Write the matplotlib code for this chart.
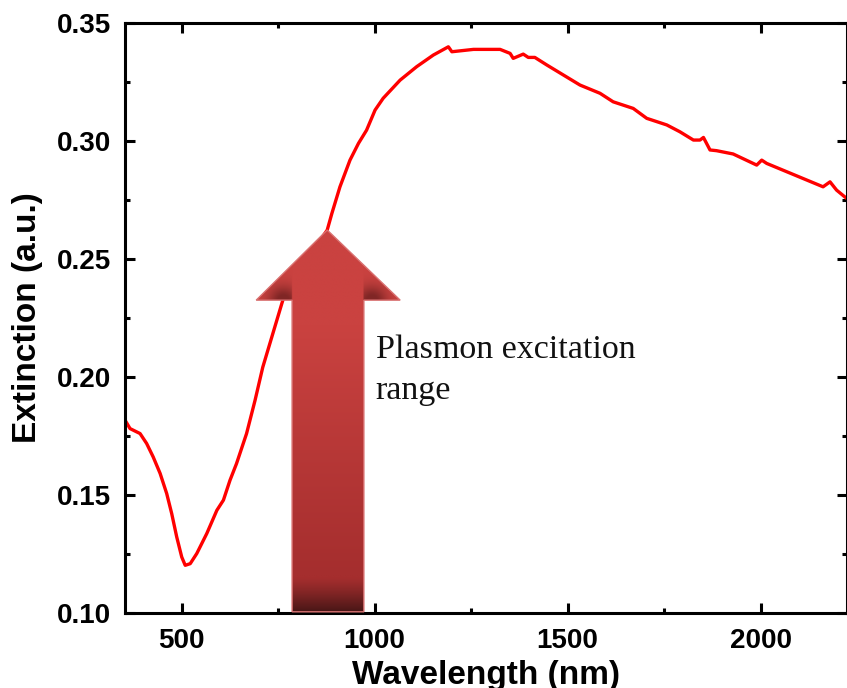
import numpy as np
import matplotlib.pyplot as plt
from matplotlib.patches import Polygon

plt.rcParams['font.family'] = 'Liberation Sans'
plt.rcParams['font.weight'] = 'bold'

# --- data ---
wavelength = [353, 366, 392, 409, 426, 444, 461, 474, 487, 500, 509, 522, 539, 565,
              591, 608, 625, 642, 668, 690, 710, 762, 819, 877, 889, 910, 936, 958,
              979, 1001, 1022, 1066, 1109, 1152, 1191, 1200, 1256, 1325, 1351, 1359,
              1385, 1398, 1415, 1446, 1532, 1584, 1618, 1670, 1705, 1757, 1791, 1826,
              1843, 1852, 1869, 1886, 1929, 1990, 2003, 2016, 2162, 2180, 2197, 2223, 2240]
extinction = [0.1817, 0.1781, 0.1760, 0.1718, 0.1661, 0.1591, 0.1506, 0.1421, 0.1322,
              0.1237, 0.1202, 0.1209, 0.1252, 0.1337, 0.1435, 0.1478, 0.1562, 0.1633,
              0.1760, 0.1901, 0.2041, 0.2325, 0.2486, 0.2622, 0.2692, 0.2805, 0.2918,
              0.2989, 0.3045, 0.3130, 0.3180, 0.3257, 0.3314, 0.3363, 0.3398, 0.3377,
              0.3387, 0.3387, 0.3370, 0.3349, 0.3367, 0.3353, 0.3353, 0.3321, 0.3236,
              0.3201, 0.3165, 0.3137, 0.3095, 0.3067, 0.3038, 0.3003, 0.3003, 0.3014,
              0.2961, 0.2958, 0.2944, 0.2897, 0.2918, 0.2904, 0.2805, 0.2826, 0.2791,
              0.2756, 0.2740]

# arrow outline (data coords): shaft and head
shaft_x = [786, 972]
head_x = [693, 1066]
tip = (877, 0.2622)
head_base = 0.2325
shaft_bottom = 0.1005

xlim = (353, 2224)
ylim = (0.10, 0.35)
xticks = [500, 1000, 1500, 2000]
yticks = [0.10, 0.15, 0.20, 0.25, 0.30, 0.35]

fig = plt.figure(figsize=(8.47, 6.88), dpi=100)
ax = fig.add_axes([0.1476, 0.109, 0.8524, 0.858])

ax.plot(wavelength, extinction, color='#ff0000', lw=2.4, zorder=2)

# --- gradient arrow ---
verts = [(shaft_x[0], shaft_bottom), (shaft_x[1], shaft_bottom), (shaft_x[1], head_base),
         (head_x[1], head_base), tip, (head_x[0], head_base), (shaft_x[0], head_base)]
poly = Polygon(verts, closed=True, facecolor='none', edgecolor='#d97070', lw=1.0, zorder=4)
ax.add_patch(poly)

gx = np.linspace(head_x[0], head_x[1], 300)
gy = np.linspace(shaft_bottom, tip[1], 500)
X, Y = np.meshgrid(gx, gy)
t = (Y - shaft_bottom) / (tip[1] - shaft_bottom)
top = np.array([202, 66, 64]) / 255
mid = np.array([165, 46, 46]) / 255
bot = np.array([72, 22, 22]) / 255
s = np.clip((0.75 - t) / 0.65, 0, 1)[..., None]
col = top * (1 - s) + mid * s
b = np.clip((0.09 - t) / 0.09, 0, 1)[..., None] ** 1.2
col = col * (1 - b) + bot * b
# shadows in the inner corners of the head
shade = np.zeros_like(X)
for cx, sign in [(shaft_x[0], -1), (shaft_x[1], 1)]:
    d = np.exp(-(((X - (cx + sign * 22)) / 38) ** 2 + ((Y - head_base) / 0.006) ** 2))
    outside = (X < shaft_x[0]) | (X > shaft_x[1])
    shade += d * outside
shade = np.clip(shade * 0.7, 0, 0.6)[..., None]
col = col * (1 - shade) + np.array([80, 20, 20]) / 255 * shade
img = ax.imshow(col, extent=(gx[0], gx[-1], gy[0], gy[-1]), origin='lower',
                aspect='auto', interpolation='bilinear', zorder=3)
clip = Polygon(verts, closed=True, transform=ax.transData)
img.set_clip_path(clip)

ax.text(1003, 0.1905, 'Plasmon excitation\nrange', family='Liberation Serif',
        fontweight='normal', fontsize=24.5, va='baseline', ha='left',
        linespacing=1.45, color='#111111', zorder=5)

ax.set_xlim(*xlim)
ax.set_ylim(*ylim)
ax.set_xticks(xticks)
ax.set_yticks(yticks)
ax.set_xticks(np.arange(750, 2250, 500), minor=True)
ax.set_yticks(np.arange(0.125, 0.35, 0.05), minor=True)
ax.yaxis.set_major_formatter(plt.FormatStrFormatter('%.2f'))

ax.tick_params(which='both', direction='in', top=True, right=True, width=2.2,
               labelsize=20, colors='black')
ax.tick_params(axis='y', which='major', length=7.5, pad=10)
ax.tick_params(axis='x', which='major', length=7.5, pad=11)
ax.tick_params(which='minor', length=3.5)
for sp in ax.spines.values():
    sp.set_linewidth(2.2)

ax.set_xlabel('Wavelength (nm)', fontsize=24, fontweight='bold', labelpad=4)
ax.set_ylabel('Extinction (a.u.)', fontsize=24, fontweight='bold', labelpad=10)

fig.savefig('out.png', dpi=100)
